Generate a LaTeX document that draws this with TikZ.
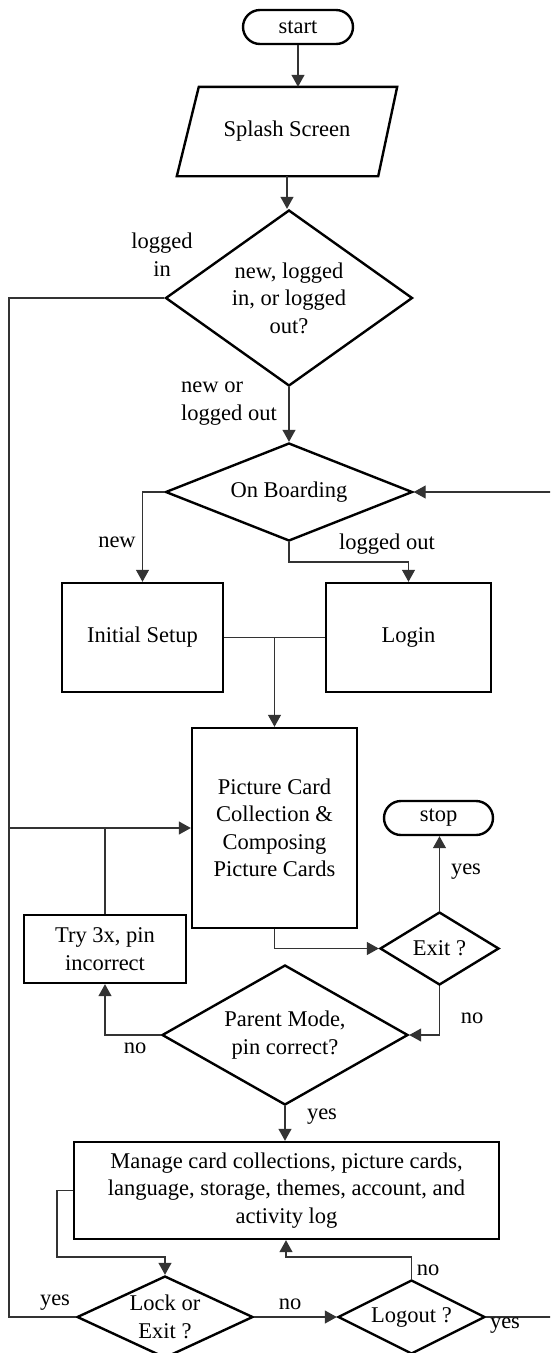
\documentclass[tikz,border=0pt]{standalone}
\usepackage{fontspec}
\setmainfont{Liberation Serif}
\usetikzlibrary{shapes.geometric,arrows.meta,calc}
\begin{document}
\begin{tikzpicture}[x=1pt,y=-1pt,
  every node/.style={font=\fontsize{22.5pt}{27.5pt}\selectfont, inner sep=0pt},
  box/.style={draw=black, line width=2.4pt, rectangle, align=center},
  term/.style={draw=black, line width=2.4pt, rectangle, rounded corners=17pt, minimum height=34pt},
  dec/.style={draw=black, line width=2.4pt, diamond, align=center},
  conn/.style={draw=black!80, line width=1.2pt},
  arr/.style={conn, -{Triangle[length=12pt,width=13pt]}},
  lbl/.style={align=center}
]
\clip (0,0) rectangle (550,1353);

% nodes
\node[term, minimum width=110pt] (start) at (298,27) {start};
\node[minimum width=220pt, minimum height=89pt] (splash) at (287,131.5) {Splash Screen};
\draw[line width=2.4pt] ($(splash.north west)+(22,0)$) -- (splash.north east) -- ($(splash.south east)+(-19,0)$) -- (splash.south west) -- cycle;
\node[dec, minimum width=247pt, minimum height=176pt, aspect=1.4] (dec1) at (289,298) {new, logged\\in, or logged\\out?};
\node[dec, minimum width=247pt, minimum height=98pt, aspect=2.52] (onb) at (289,492) {On Boarding};
\node[box, minimum width=161pt, minimum height=109pt] (init) at (142.5,637.5) {Initial Setup};
\node[box, minimum width=165pt, minimum height=109pt] (login) at (408.5,637.5) {Login};
\node[box, minimum width=165pt, minimum height=200pt] (pic) at (274.5,828) {Picture Card\\Collection \&\\Composing\\Picture Cards};
\node[term, minimum width=109pt] (stop) at (438.5,818) {stop};
\node[dec, minimum width=119pt, minimum height=73pt, aspect=1.63] (exit) at (439.5,948.5) {Exit ?};
\node[box, minimum width=162pt, minimum height=68pt] (try) at (105,949) {Try 3x, pin\\incorrect};
\node[dec, minimum width=246pt, minimum height=140pt, aspect=1.76] (parent) at (285,1035) {Parent Mode,\\pin correct?};
\node[box, minimum width=425pt, minimum height=97pt] (manage) at (286.5,1190.5) {Manage card collections, picture cards,\\language, storage, themes, account, and\\activity log};
\node[dec, minimum width=176pt, minimum height=82pt, aspect=2.15] (lock) at (165,1317) {Lock or\\Exit ?};
\node[dec, minimum width=147pt, minimum height=74pt, aspect=2] (logout) at (411.5,1317) {Logout ?};

% connectors
\coordinate (L) at (9,828);
\draw[conn] (dec1.west) -| (L);
\draw[arr] (L) -- (pic.west);
\draw[conn] (lock.west) -| (L);
\draw[conn] (try.north) -- (try.north |- pic.west);
\draw[arr] (start.south) -- (start.south |- splash.north);
\draw[arr] (splash.south) -- (splash.south |- dec1.north);
\draw[arr] (dec1.south) -- (onb.north);
\draw[arr] (onb.west) -| (init.north);
\coordinate (obk) at (289,562);
\draw[arr] (onb.south) -- (obk) -| (login.north);
\draw[conn] (init.east) -- (login.west);
\draw[arr] (init.east -| pic.north) -- (pic.north);
\draw[arr] (pic.south) |- (exit.west);
\draw[arr] (exit.north) -- (exit.north |- stop.south);
\draw[arr] (exit.south) |- (parent.east);
\draw[arr] (parent.west) -| (try.south);
\draw[arr] (parent.south) -- (parent.south |- manage.north);
\coordinate (mk) at (57,1257);
\draw[arr] (manage.west) -| (mk) -| (lock.north);
\draw[arr] (lock.east) -- (logout.west);
\coordinate (lk) at (286,1257);
\draw[arr] (logout.north) |- (lk) -- (lk |- manage.south);
\coordinate (rk) at (575,1317);
\draw[arr] (logout.east) -- (rk) |- (onb.east);

% labels
\node[lbl] (l1) at (162,254.5) {logged\\in};
\node[align=left, anchor=west] (l2) at (181,403.5) {new or\\logged out};
\node (l3) at (117,542) {new};
\node (l4) at (387,544) {logged out};
\node (l5) at (466,872) {yes};
\node (l6) at (472,1018) {no};
\node (l7) at (135,1048) {no};
\node (l8) at (322,1117) {yes};
\node (l9) at (55,1303) {yes};
\node (l10) at (290,1304) {no};
\node (l11) at (428,1270) {no};
\node (l12) at (505,1326) {yes};
\end{tikzpicture}
\end{document}
